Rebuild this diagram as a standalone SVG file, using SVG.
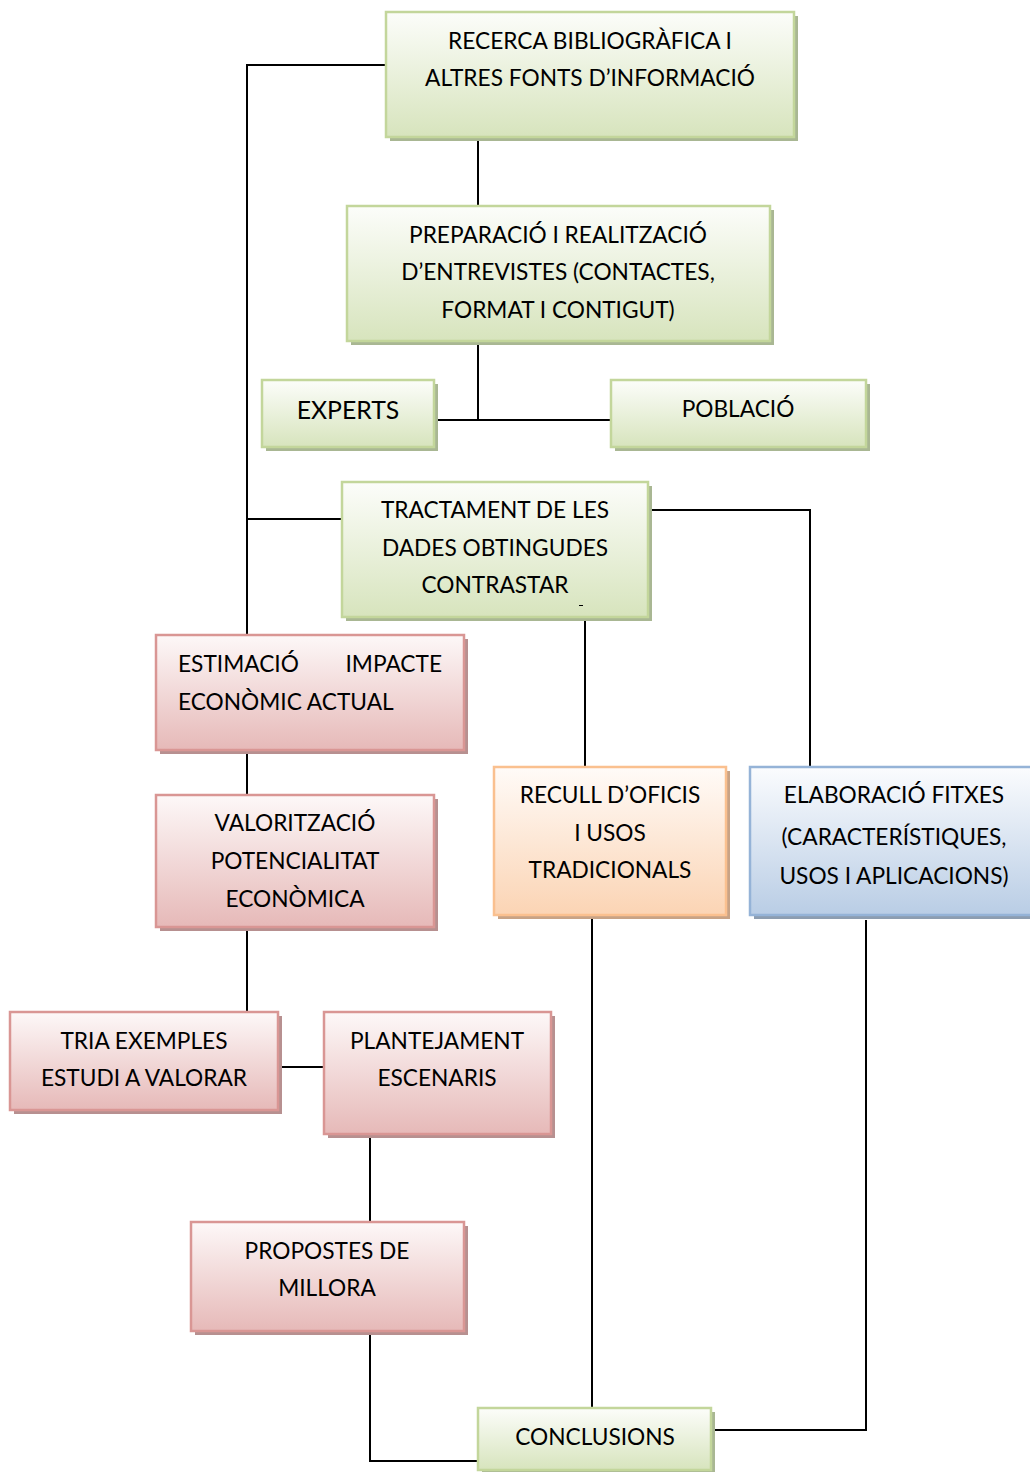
<svg xmlns="http://www.w3.org/2000/svg" width="1030" height="1472" viewBox="0 0 1030 1472">
<style>
text{font-family:Lato,"Liberation Sans",sans-serif;font-size:22.7px;fill:#000;text-anchor:middle}
.g .b{fill:url(#gG);stroke:#c3d69b;stroke-width:2.5}
.g .s{fill:#a9b793}
.p .b{fill:url(#gP);stroke:#d99694;stroke-width:2.5}
.p .s{fill:#b79090}
.o .b{fill:url(#gO);stroke:#fac08f;stroke-width:2.5}
.o .s{fill:#c8a386}
.u .b{fill:url(#gB);stroke:#95b3d7;stroke-width:2.5}
.u .s{fill:#8d9db0}
#connectors{fill:none;stroke:#000;stroke-width:2}
</style>
<defs>
<linearGradient id="gG" x1="0" y1="0" x2="0" y2="1"><stop offset="0" stop-color="#fcfdfa"/><stop offset="1" stop-color="#d7e4bd"/></linearGradient>
<linearGradient id="gP" x1="0" y1="0" x2="0" y2="1"><stop offset="0" stop-color="#fdf8f8"/><stop offset="1" stop-color="#e6b9b8"/></linearGradient>
<linearGradient id="gO" x1="0" y1="0" x2="0" y2="1"><stop offset="0" stop-color="#fffbf8"/><stop offset="1" stop-color="#fbd4b4"/></linearGradient>
<linearGradient id="gB" x1="0" y1="0" x2="0" y2="1"><stop offset="0" stop-color="#fbfcfe"/><stop offset="1" stop-color="#b9cde5"/></linearGradient>
</defs>

<g id="connectors">
<polyline points="386,65 247,65 247,635"/>
<line x1="247" y1="519" x2="342" y2="519"/>
<line x1="478" y1="137" x2="478" y2="206"/>
<line x1="478" y1="341" x2="478" y2="420"/>
<line x1="434" y1="420" x2="611" y2="420"/>
<polyline points="648,510 810,510 810,767"/>
<line x1="585" y1="617" x2="585" y2="767"/>
<line x1="247" y1="750" x2="247" y2="795"/>
<line x1="247" y1="927" x2="247" y2="1012"/>
<line x1="278" y1="1067" x2="324" y2="1067"/>
<line x1="370" y1="1134" x2="370" y2="1222"/>
<polyline points="370,1331 370,1461 478,1461"/>
<line x1="592" y1="915" x2="592" y2="1408"/>
<polyline points="866,920 866,1430 711,1430"/>
</g>

<g id="recerca" class="g">
<rect class="s" x="390" y="16" width="408" height="125"/>
<rect class="b" x="386" y="12" width="408" height="125"/>
<text x="590" y="49">RECERCA BIBLIOGRÀFICA I</text>
<text x="590" y="86">ALTRES FONTS D’INFORMACIÓ</text>
</g>

<g id="preparacio" class="g">
<rect class="s" x="351" y="210" width="423" height="135"/>
<rect class="b" x="347" y="206" width="423" height="135"/>
<text x="558" y="243">PREPARACIÓ I REALITZACIÓ</text>
<text x="558" y="280">D’ENTREVISTES (CONTACTES,</text>
<text x="558" y="318">FORMAT I CONTIGUT)</text>
</g>

<g id="experts" class="g">
<rect class="s" x="266" y="384" width="172" height="67"/>
<rect class="b" x="262" y="380" width="172" height="67"/>
<text x="348" y="419" style="font-size:24.8px">EXPERTS</text>
</g>

<g id="poblacio" class="g">
<rect class="s" x="615" y="384" width="255" height="67"/>
<rect class="b" x="611" y="380" width="255" height="67"/>
<text x="738" y="417">POBLACIÓ</text>
</g>

<g id="tractament" class="g">
<rect class="s" x="346" y="486" width="306" height="135"/>
<rect class="b" x="342" y="482" width="306" height="135"/>
<text x="495" y="518">TRACTAMENT DE LES</text>
<text x="495" y="556">DADES OBTINGUDES</text>
<text x="495" y="593">CONTRASTAR</text>
<rect x="579" y="605" width="4" height="1" fill="#000"/>
</g>

<g id="estimacio" class="p">
<rect class="s" x="160" y="639" width="308" height="115"/>
<rect class="b" x="156" y="635" width="308" height="115"/>
<text x="178" y="672" style="text-anchor:start">ESTIMACIÓ</text>
<text x="442" y="672" style="text-anchor:end">IMPACTE</text>
<text x="178" y="710" style="text-anchor:start">ECONÒMIC ACTUAL</text>
</g>

<g id="valoritzacio" class="p">
<rect class="s" x="160" y="799" width="278" height="132"/>
<rect class="b" x="156" y="795" width="278" height="132"/>
<text x="295" y="831">VALORITZACIÓ</text>
<text x="295" y="869">POTENCIALITAT</text>
<text x="295" y="907">ECONÒMICA</text>
</g>

<g id="tria" class="p">
<rect class="s" x="14" y="1016" width="268" height="98"/>
<rect class="b" x="10" y="1012" width="268" height="98"/>
<text x="144" y="1049">TRIA EXEMPLES</text>
<text x="144" y="1086">ESTUDI A VALORAR</text>
</g>

<g id="plantejament" class="p">
<rect class="s" x="328" y="1016" width="227" height="122"/>
<rect class="b" x="324" y="1012" width="227" height="122"/>
<text x="437" y="1049">PLANTEJAMENT</text>
<text x="437" y="1086">ESCENARIS</text>
</g>

<g id="propostes" class="p">
<rect class="s" x="195" y="1226" width="273" height="109"/>
<rect class="b" x="191" y="1222" width="273" height="109"/>
<text x="327" y="1259">PROPOSTES DE</text>
<text x="327" y="1296">MILLORA</text>
</g>

<g id="recull" class="o">
<rect class="s" x="498" y="771" width="232" height="148"/>
<rect class="b" x="494" y="767" width="232" height="148"/>
<text x="610" y="803">RECULL D’OFICIS</text>
<text x="610" y="841">I USOS</text>
<text x="610" y="878">TRADICIONALS</text>
</g>

<g id="elaboracio" class="u">
<rect class="s" x="754" y="771" width="283" height="148"/>
<rect class="b" x="750" y="767" width="283" height="148"/>
<text x="894" y="803">ELABORACIÓ FITXES</text>
<text x="894" y="845">(CARACTERÍSTIQUES,</text>
<text x="894" y="884">USOS I APLICACIONS)</text>
</g>

<g id="conclusions" class="g">
<rect class="s" x="482" y="1412" width="233" height="62"/>
<rect class="b" x="478" y="1408" width="233" height="62"/>
<text x="595" y="1445">CONCLUSIONS</text>
</g>
</svg>
